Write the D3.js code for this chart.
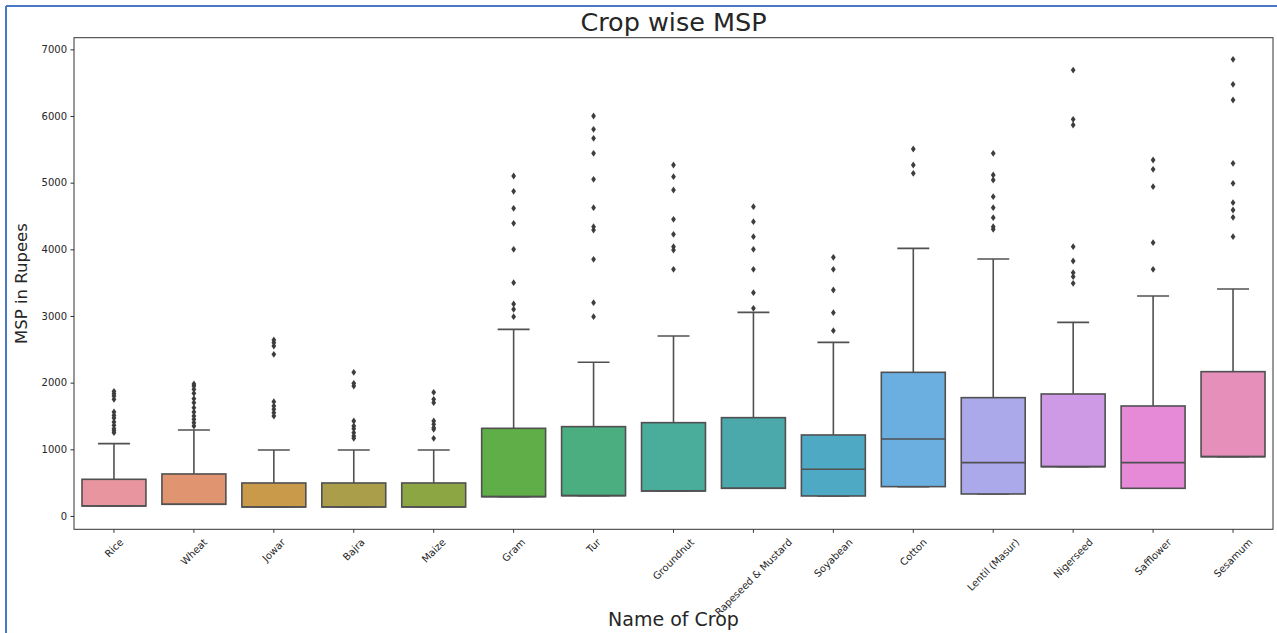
<!DOCTYPE html>
<html>
<head>
<meta charset="utf-8">
<title>Crop wise MSP</title>
<script src="https://cdn.jsdelivr.net/npm/d3@7"></script>
<style>
  body { margin: 0; background: #fff; }
  text { font-family: "DejaVu Sans", sans-serif; fill: #262626; }
</style>
</head>
<body>
<script>
// values
var crops = ["Rice", "Wheat", "Jowar", "Bajra", "Maize", "Gram", "Tur", "Groundnut",
  "Rapeseed & Mustard", "Soyabean", "Cotton", "Lentil (Masur)", "Nigerseed", "Safflower", "Sesamum"];
var q1     = [150, 175, 135, 135, 135, 290, 305, 375, 415, 300, 440, 330, 740, 415, 890];
var median = [150, 175, 135, 135, 135, 290, 305, 375, 415, 700, 1155, 800, 740, 800, 890];
var q3     = [550, 630, 495, 495, 495, 1315, 1340, 1400, 1475, 1215, 2155, 1775, 1830, 1650, 2165];
var whiskLow  = [150, 175, 135, 135, 135, 290, 305, 375, 415, 300, 440, 330, 740, 415, 890];
var whiskHigh = [1085, 1290, 990, 990, 990, 2800, 2305, 2700, 3055, 2605, 4015, 3855, 2905, 3300, 3405];
var outliers = [
  [1870, 1835, 1800, 1750, 1560, 1510, 1470, 1410, 1360, 1310, 1280, 1250],
  [1980, 1950, 1900, 1840, 1760, 1700, 1625, 1560, 1500, 1450, 1400, 1350],
  [2640, 2600, 2550, 2425, 1715, 1650, 1600, 1550, 1500],
  [2155, 1990, 1950, 1425, 1350, 1310, 1250, 1200, 1165],
  [1855, 1750, 1700, 1425, 1375, 1325, 1300, 1165],
  [5100, 4870, 4615, 4390, 4000, 3500, 3180, 3100, 2990],
  [6000, 5800, 5665, 5440, 5050, 4625, 4340, 4290, 3850, 3200, 2990],
  [5265, 5090, 4890, 4450, 4225, 4040, 3990, 3700],
  [4640, 4415, 4190, 4000, 3700, 3350, 3115],
  [3880, 3700, 3390, 3050, 2780],
  [5505, 5265, 5140],
  [5440, 5115, 5040, 4790, 4625, 4475, 4340, 4300],
  [6690, 5950, 5865, 4040, 3825, 3650, 3590, 3490],
  [5340, 5200, 4940, 4100, 3700],
  [6850, 6475, 6240, 5290, 4990, 4700, 4590, 4480, 4190]
];
var colors = ["#e8959f", "#e19470", "#c89a4a", "#ab9e4a", "#8da644", "#60ae47", "#4aae80", "#4aad9c",
  "#4ba9ab", "#4eaac4", "#6aafe0", "#aca9ea", "#cf9ae5", "#e68ad8", "#e78fbb"];
var yTicks = [0, 1000, 2000, 3000, 4000, 5000, 6000, 7000];

var W = 1277, H = 633;
var plotL = 74, plotR = 1273, plotT = 37.7, plotB = 529.3;
var lineCol = "#505050";

var svg = d3.select("body").append("svg").attr("width", W).attr("height", H);

// blue frame of the screenshot
svg.append("line").attr("x1", 6).attr("x2", W).attr("y1", 6).attr("y2", 6).attr("stroke", "#4a78c8").attr("stroke-width", 2);
svg.append("line").attr("x1", 6).attr("x2", 6).attr("y1", 6).attr("y2", H).attr("stroke", "#4a78c8").attr("stroke-width", 2);

var x = d3.scaleBand().domain(crops).range([plotL, plotR]).padding(0);
var y = d3.scaleLinear().domain([-200, 7175]).range([plotB, plotT]);

var bw = x.bandwidth() * 0.8;
var capW = bw * 0.5;

var yAxis = d3.axisLeft(y).tickValues(yTicks).tickSize(3.5).tickPadding(3.5).tickFormat(d3.format("d"));
var gy = svg.append("g").attr("transform", "translate(" + plotL + ",0)").call(yAxis);
gy.select(".domain").remove();
gy.selectAll(".tick line").attr("stroke", "#333");
gy.selectAll(".tick text").style("font-size", "10px").attr("fill", "#262626");

var xAxis = d3.axisBottom(x).tickSize(3.5).tickFormat("");
var gx = svg.append("g").attr("transform", "translate(0," + plotB + ")").call(xAxis);
gx.select(".domain").remove();
gx.selectAll(".tick line").attr("stroke", "#333");

// rotated tick labels, bbox centred under tick like matplotlib rotation=45
crops.forEach(function(c) {
  var t = svg.append("text").text(c).style("font-size", "10px")
    .attr("text-anchor", "middle").attr("dominant-baseline", "central");
  var w = t.node().getComputedTextLength();
  var half = (w + 11.6) * 0.7071 / 2;
  var cx = x(c) + x.bandwidth() / 2, cy = plotB + 7 + half;
  t.attr("transform", "translate(" + cx + "," + cy + ") rotate(-45)");
});

var boxes = svg.append("g");
crops.forEach(function(c, i) {
  var cx = x(c) + x.bandwidth() / 2;
  var g = boxes.append("g");
  // whiskers
  g.append("line").attr("x1", cx).attr("x2", cx).attr("y1", y(q3[i])).attr("y2", y(whiskHigh[i]))
    .attr("stroke", lineCol).attr("stroke-width", 1.6);
  g.append("line").attr("x1", cx).attr("x2", cx).attr("y1", y(q1[i])).attr("y2", y(whiskLow[i]))
    .attr("stroke", lineCol).attr("stroke-width", 1.6);
  g.append("line").attr("x1", cx - capW / 2).attr("x2", cx + capW / 2).attr("y1", y(whiskHigh[i])).attr("y2", y(whiskHigh[i]))
    .attr("stroke", lineCol).attr("stroke-width", 1.6);
  g.append("line").attr("x1", cx - capW / 2).attr("x2", cx + capW / 2).attr("y1", y(whiskLow[i])).attr("y2", y(whiskLow[i]))
    .attr("stroke", lineCol).attr("stroke-width", 1.6);
  // box
  g.append("rect").attr("x", cx - bw / 2).attr("width", bw)
    .attr("y", y(q3[i])).attr("height", y(q1[i]) - y(q3[i]))
    .attr("fill", colors[i]).attr("stroke", lineCol).attr("stroke-width", 1.6);
  g.append("line").attr("x1", cx - bw / 2).attr("x2", cx + bw / 2).attr("y1", y(median[i])).attr("y2", y(median[i]))
    .attr("stroke", lineCol).attr("stroke-width", 1.6);
  // outliers as thin diamonds
  g.selectAll("path.out").data(outliers[i]).enter().append("path").attr("class", "out")
    .attr("d", "M0,-3.4L2.4,0L0,3.4L-2.4,0Z")
    .attr("transform", function(d) { return "translate(" + cx + "," + y(d) + ")"; })
    .attr("fill", "#3d3d3d");
});

// plot frame
svg.append("rect").attr("x", plotL).attr("y", plotT).attr("width", plotR - plotL).attr("height", plotB - plotT)
  .attr("fill", "none").attr("stroke", "#333").attr("stroke-width", 1);

svg.append("text").text("Crop wise MSP").attr("x", (plotL + plotR) / 2).attr("y", 31)
  .attr("text-anchor", "middle").style("font-size", "25.5px").attr("fill", "#111");
svg.append("text").text("Name of Crop").attr("x", (plotL + plotR) / 2).attr("y", 626)
  .attr("text-anchor", "middle").style("font-size", "19px").attr("fill", "#111");
svg.append("text").text("MSP in Rupees")
  .attr("transform", "translate(27," + ((plotT + plotB) / 2) + ") rotate(-90)")
  .attr("text-anchor", "middle").style("font-size", "16.5px").attr("fill", "#111");
</script>
</body>
</html>
